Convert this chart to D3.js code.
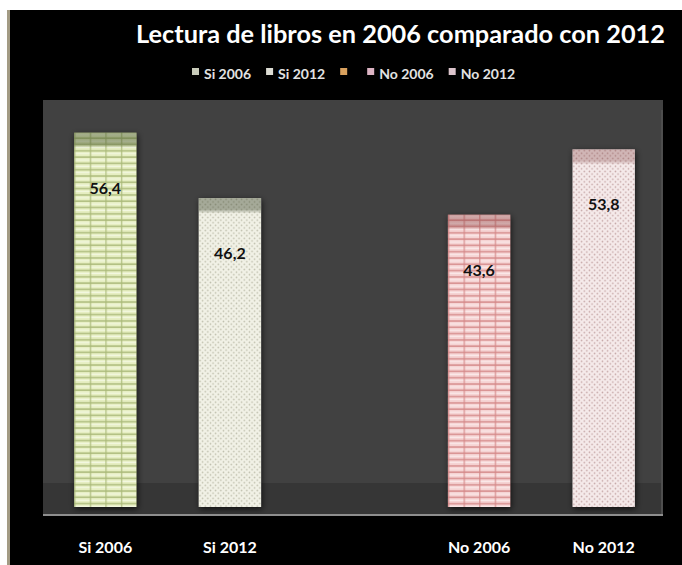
<!DOCTYPE html>
<html>
<head>
<meta charset="utf-8">
<script src="https://cdn.jsdelivr.net/npm/d3@7"></script>
<style>
  html, body { margin: 0; padding: 0; background: #fff; }
  svg { display: block; }
</style>
</head>
<body>
<div id="chart"></div>
<script>
// ---- data ----
const categories = ["Si 2006", "Si 2012", "", "No 2006", "No 2012"];
const values = [56.4, 46.2, null, 43.6, 53.8];
const legendLabels = ["Si 2006", "Si 2012", "", "No 2006", "No 2012"];
const titleText = "Lectura de libros en 2006 comparado con 2012";

// ---- styles ----
const legendColors = ["#c9ccba", "#dcdcd4", "#d9a15e", "#dcb4c4", "#dcc4cc"];
const barBase = ["#e6eec2", "#f1f1e6", null, "#f5d3d3", "#f5eaea"];
const barLine = ["#a9b978", "#bdbdab", null, "#d48888", "#c4a4a4"];
const barTop = ["rgba(70,85,45,0.45)", "rgba(60,70,45,0.42)", null, "rgba(130,60,60,0.35)", "rgba(130,70,70,0.32)"];
const patternKind = ["grid", "dots", null, "grid", "dots"];

const W = 682, H = 565;
const wall = { x0: 43, x1: 663, y0: 100, floorTop: 483, axisY: 515 };
const font = "Lato, 'Open Sans', sans-serif";

const svg = d3.select("#chart").append("svg")
  .attr("width", W).attr("height", H);

// frame
svg.append("rect").attr("width", W).attr("height", H).attr("fill", "#ffffff");
svg.append("rect").attr("x", 10).attr("y", 10).attr("width", W - 10).attr("height", H - 10).attr("fill", "#000");
svg.append("rect").attr("x", 7).attr("y", 10).attr("width", 3).attr("height", H - 10).attr("fill", "#a39b84");

// scales
const x = d3.scaleBand().domain(categories.map((c, i) => i))
  .range([43, 666]).paddingInner(0.5).paddingOuter(0.25);
const y = d3.scaleLinear().domain([0, 60]).range([494, 494 - 60 * 6.406]);
const depth = 13;

// plot wall + floor
svg.append("rect").attr("x", wall.x0).attr("y", wall.y0)
  .attr("width", wall.x1 - wall.x0).attr("height", wall.axisY - wall.y0).attr("fill", "#414141");
svg.append("rect").attr("x", wall.x0).attr("y", wall.floorTop)
  .attr("width", wall.x1 - wall.x0).attr("height", wall.axisY - wall.floorTop).attr("fill", "#363636");
svg.append("line").attr("x1", wall.x1 - 1).attr("x2", wall.x1 - 1)
  .attr("y1", wall.y0 + 10).attr("y2", wall.axisY).attr("stroke", "#4e4e4e").attr("stroke-width", 2);

// defs: patterns, gradients, shadow
const defs = svg.append("defs");
const sh = defs.append("filter").attr("id", "shadow").attr("x", "-30%").attr("y", "-10%").attr("width", "160%").attr("height", "130%");
sh.append("feDropShadow").attr("dx", 1).attr("dy", 2).attr("stdDeviation", 3)
  .attr("flood-color", "#000").attr("flood-opacity", 0.7);

values.forEach((v, i) => {
  if (v == null) return;
  const bx = x(i), bw = x.bandwidth();
  const p = defs.append("pattern").attr("id", "pat" + i)
    .attr("patternUnits", "userSpaceOnUse");
  if (patternKind[i] === "grid") {
    const pw = bw / 4, ph = 6.3;
    p.attr("x", bx).attr("y", y(v)).attr("width", pw).attr("height", ph);
    p.append("rect").attr("width", pw).attr("height", ph).attr("fill", barBase[i]);
    p.append("rect").attr("y", ph - 1.6).attr("width", pw).attr("height", 1.6).attr("fill", barLine[i]).attr("opacity", 0.85);
    p.append("rect").attr("y", 1.5).attr("width", pw).attr("height", 1.2).attr("fill", "#ffffff").attr("opacity", 0.5);
    p.append("rect").attr("x", 0).attr("width", 1.4).attr("height", ph).attr("fill", barLine[i]).attr("opacity", 0.8);
  } else {
    const pw = 5.2, ph = 5.2;
    p.attr("x", bx).attr("y", y(v)).attr("width", pw).attr("height", ph);
    p.append("rect").attr("width", pw).attr("height", ph).attr("fill", barBase[i]);
    p.append("circle").attr("cx", 1.3).attr("cy", 1.3).attr("r", 0.8).attr("fill", barLine[i]);
    p.append("circle").attr("cx", 3.9).attr("cy", 3.9).attr("r", 0.8).attr("fill", barLine[i]);
  }
  const g = defs.append("linearGradient").attr("id", "top" + i)
    .attr("x1", 0).attr("x2", 0).attr("y1", 0).attr("y2", 1);
  g.append("stop").attr("offset", "0%").attr("stop-color", barTop[i]);
  g.append("stop").attr("offset", "75%").attr("stop-color", barTop[i]);
  g.append("stop").attr("offset", "100%").attr("stop-color", barTop[i]).attr("stop-opacity", 0.1);
});

const barsData = values.map((v, i) => ({ v, i })).filter(d => d.v != null);

// bars
const bars = svg.append("g");
bars.selectAll("rect.bar").data(barsData).join("rect")
  .attr("class", "bar")
  .attr("x", d => x(d.i)).attr("width", x.bandwidth())
  .attr("y", d => y(d.v)).attr("height", d => y(0) + depth - y(d.v))
  .attr("fill", d => "url(#pat" + d.i + ")")
  .attr("filter", "url(#shadow)");
bars.selectAll("rect.top").data(barsData).join("rect")
  .attr("class", "top")
  .attr("x", d => x(d.i)).attr("width", x.bandwidth())
  .attr("y", d => y(d.v)).attr("height", 15)
  .attr("fill", d => "url(#top" + d.i + ")");

// value labels
const es = d3.formatLocale({ decimal: ",", thousands: ".", grouping: [3], currency: ["", "€"] });
const fmt = es.format(".1f");
svg.append("g").selectAll("text").data(barsData).join("text")
  .attr("x", d => x(d.i) + x.bandwidth() / 2)
  .attr("y", d => y(d.v) + 61)
  .attr("text-anchor", "middle")
  .attr("font-family", font).attr("font-weight", "bold").attr("font-size", 16)
  .attr("fill", "#111")
  .text(d => fmt(d.v));

// axis line
svg.append("line").attr("x1", wall.x0).attr("x2", wall.x1)
  .attr("y1", wall.axisY).attr("y2", wall.axisY)
  .attr("stroke", "#8e8e8e").attr("stroke-width", 2);

// x axis labels
const xAxis = d3.axisBottom(x).tickSize(0).tickPadding(27).tickFormat(i => categories[i]);
const ax = svg.append("g").attr("transform", `translate(0,${wall.axisY})`).call(xAxis);
ax.select(".domain").remove();
ax.selectAll("text")
  .attr("font-family", font).attr("font-weight", "bold").attr("font-size", 16)
  .attr("fill", "#ffffff");

// title
svg.append("text").attr("x", 136).attr("y", 43)
  .attr("font-family", font).attr("font-weight", "bold").attr("font-size", 24)
  .attr("fill", "#ffffff")
  .attr("textLength", 529).attr("lengthAdjust", "spacingAndGlyphs")
  .text(titleText);

// legend
const lg = svg.append("g");
let lx = 192;
legendLabels.forEach((lab, i) => {
  lg.append("rect").attr("x", lx).attr("y", 68).attr("width", 7).attr("height", 7)
    .attr("fill", legendColors[i]);
  const t = lg.append("text").attr("x", lx + 12).attr("y", 79)
    .attr("font-family", font).attr("font-weight", "bold").attr("font-size", 14)
    .attr("fill", "#e2e2e2").text(lab);
  const w = lab ? t.node().getComputedTextLength() : 0;
  lx = lx + 12 + w + 15;
});
</script>
</body>
</html>
